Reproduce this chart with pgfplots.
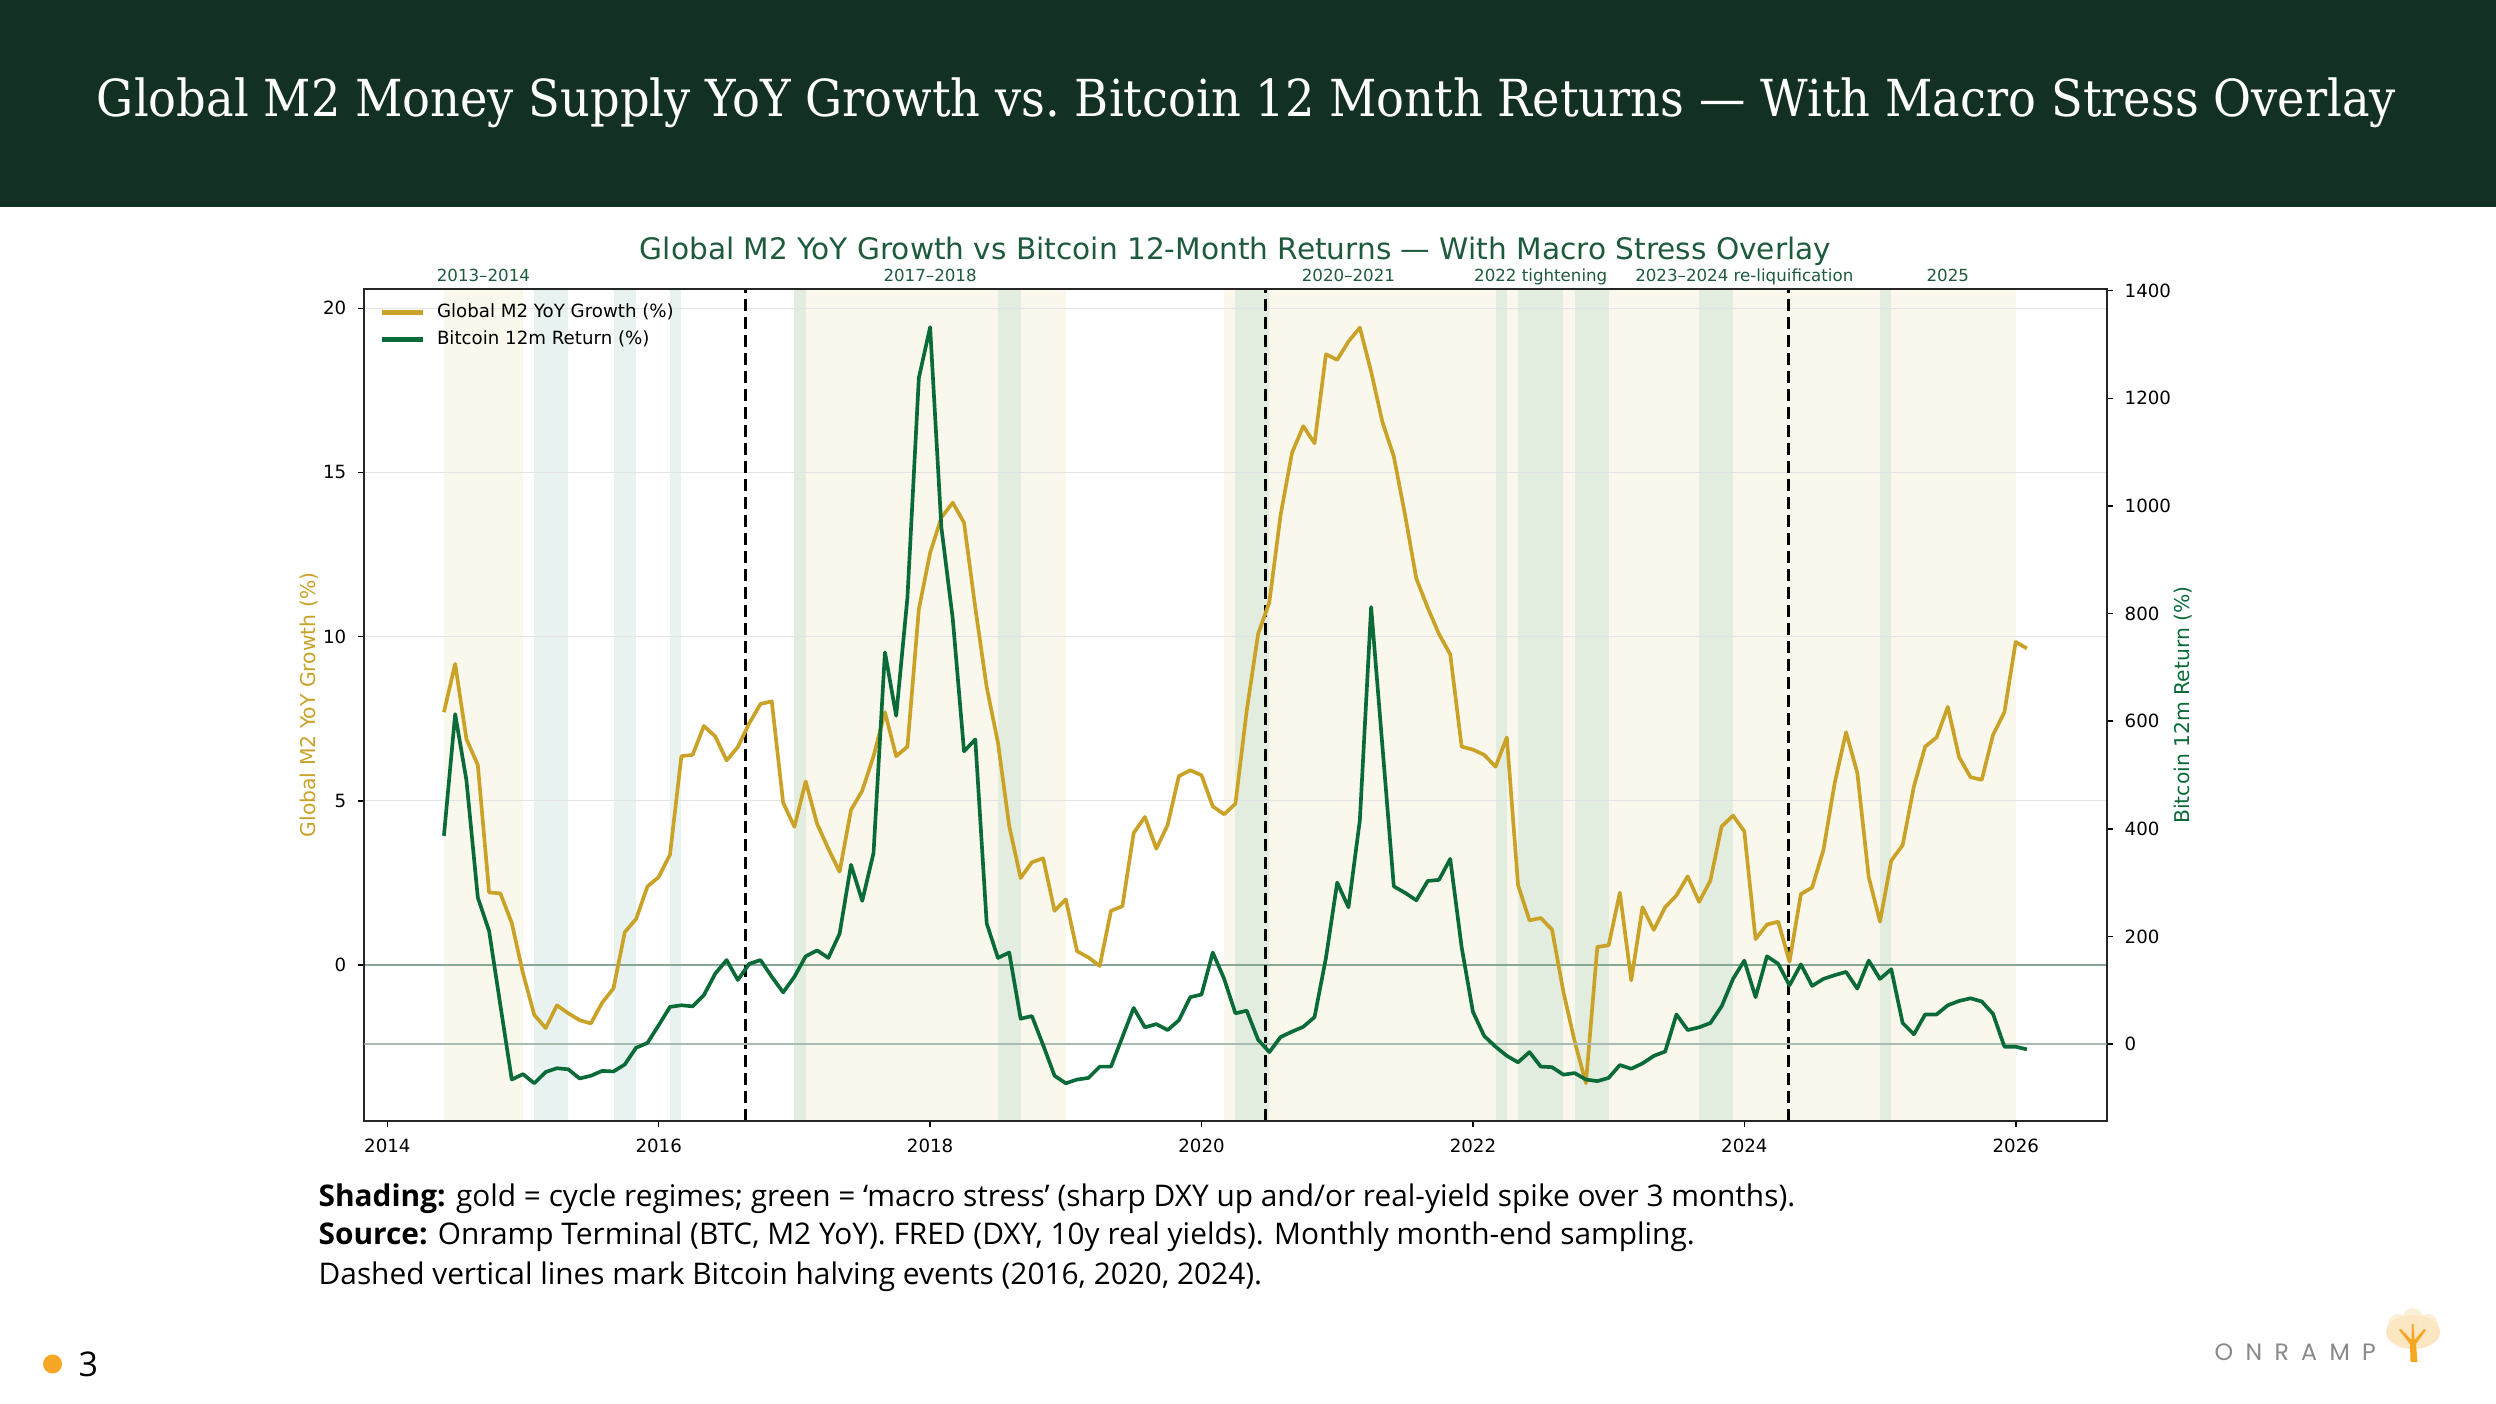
\documentclass[border=0pt]{standalone}
\usepackage{fontspec}
\usepackage{pgfplots}
\pgfplotsset{compat=1.18}
\usepackage{pgfplotstable}
\setmainfont{DejaVu Sans}
\newfontfamily\dejavu{DejaVu Sans}
\newfontfamily\serif{DejaVu Serif}
\newfontfamily\osans{Open Sans}
\newfontfamily\pop[LetterSpace=52]{Poppins}
\definecolor{hdr}{HTML}{133122}
\definecolor{ttl}{HTML}{1E5B3D}
\definecolor{gold}{HTML}{C9A227}
\definecolor{btc}{HTML}{0B6B38}
\definecolor{cream}{HTML}{FAF8EC}
\definecolor{stress}{RGB}{0,128,100}
\definecolor{zeroA}{HTML}{86A895}
\definecolor{zeroB}{HTML}{A9BCB1}
\definecolor{gridc}{HTML}{E3E3E3}
\definecolor{orangedot}{HTML}{F5A623}
\definecolor{logogrey}{HTML}{8A8A8A}

\pgfplotstableread{
x m2 btc
2014.417 7.70 387
2014.500 9.17 613
2014.583 6.88 490
2014.667 6.09 272
2014.750 2.21 210
2014.833 2.18 72
2014.917 1.28 -66
2015.000 -0.26 -56
2015.083 -1.52 -73
2015.167 -1.92 -52
2015.250 -1.23 -45
2015.333 -1.47 -47
2015.417 -1.68 -64
2015.500 -1.78 -59
2015.583 -1.15 -50
2015.667 -0.71 -51
2015.750 1.00 -38
2015.833 1.40 -7
2015.917 2.39 2
2016.000 2.68 35
2016.083 3.36 69
2016.167 6.36 72
2016.250 6.40 70
2016.333 7.28 91
2016.417 6.96 131
2016.500 6.23 156
2016.583 6.64 119
2016.667 7.36 149
2016.750 7.95 156
2016.833 8.03 125
2016.917 4.94 96
2017.000 4.21 125
2017.083 5.59 163
2017.167 4.30 174
2017.250 3.54 160
2017.333 2.84 205
2017.417 4.72 333
2017.500 5.31 266
2017.583 6.36 355
2017.667 7.70 728
2017.750 6.36 610
2017.833 6.65 830
2017.917 10.84 1238
2018.000 12.55 1332
2018.083 13.63 960
2018.167 14.08 790
2018.250 13.47 544
2018.333 10.88 566
2018.417 8.46 224
2018.500 6.77 160
2018.583 4.23 170
2018.667 2.65 47
2018.750 3.13 52
2018.833 3.25 -2
2018.917 1.65 -59
2019.000 2.00 -73
2019.083 0.42 -66
2019.167 0.23 -63
2019.250 -0.03 -42
2019.333 1.65 -42
2019.417 1.79 13
2019.500 4.02 67
2019.583 4.51 31
2019.667 3.54 37
2019.750 4.26 26
2019.833 5.75 44
2019.917 5.93 87
2020.000 5.78 92
2020.083 4.83 170
2020.167 4.59 121
2020.250 4.91 57
2020.333 7.74 62
2020.417 10.08 8
2020.500 11.05 -15
2020.583 13.71 13
2020.667 15.60 23
2020.750 16.41 32
2020.833 15.89 50
2020.917 18.60 160
2021.000 18.43 300
2021.083 18.99 254
2021.167 19.41 416
2021.250 18.07 812
2021.333 16.54 554
2021.417 15.49 293
2021.500 13.71 281
2021.583 11.77 267
2021.667 10.88 303
2021.750 10.08 305
2021.833 9.46 344
2021.917 6.65 180
2022.000 6.56 60
2022.083 6.40 15
2022.167 6.04 -5
2022.250 6.93 -22
2022.333 2.43 -34
2022.417 1.36 -15
2022.500 1.43 -42
2022.583 1.08 -43
2022.667 -0.82 -57
2022.750 -2.33 -54
2022.833 -3.60 -66
2022.917 0.55 -69
2023.000 0.60 -63
2023.083 2.20 -39
2023.167 -0.47 -46
2023.250 1.76 -36
2023.333 1.07 -22
2023.417 1.76 -14
2023.500 2.12 55
2023.583 2.70 26
2023.667 1.92 31
2023.750 2.57 39
2023.833 4.22 70
2023.917 4.55 121
2024.000 4.07 155
2024.083 0.79 87
2024.167 1.23 163
2024.250 1.32 149
2024.333 0.10 109
2024.417 2.16 148
2024.500 2.36 108
2024.583 3.50 121
2024.667 5.56 128
2024.750 7.09 134
2024.833 5.85 103
2024.917 2.68 155
2025.000 1.32 121
2025.083 3.18 139
2025.167 3.65 39
2025.250 5.44 18
2025.333 6.65 55
2025.417 6.93 55
2025.500 7.86 72
2025.583 6.33 80
2025.667 5.72 85
2025.750 5.64 79
2025.833 7.01 56
2025.917 7.70 -5
2026.000 9.84 -5
2026.083 9.64 -10
}\data

\pgfplotsset{
  common/.style={
    at={(109.32pt,84.99pt)}, anchor=south west, scale only axis,
    width=522.66pt, height=249.51pt,
    xmin=2013.831, xmax=2026.670,
    tick align=outside, major tick length=1.9pt,
    every tick/.style={black, line width=0.45pt},
    axis line style={black!85, line width=0.55pt},
    /pgf/number format/1000 sep={}, /pgf/number format/assume math mode=true,
    ticklabel style={font=\dejavu\fontsize{5.46}{6}\selectfont},
  },
  regime/.style={fill=cream, draw=none, forget plot},
  stressband/.style={fill=stress, fill opacity=0.09, draw=none, forget plot},
  halving/.style={black, line width=0.9pt, dash pattern=on 3.5pt off 1.9pt, forget plot},
}

\begin{document}
\begin{tikzpicture}[x=0.3pt,y=0.3pt]
\fill[white] (0,0) rectangle (2496,1404);
\fill[hdr] (0,1197) rectangle (2496,1404);
\node[white, anchor=base, inner sep=0pt] at (1246.5,1287) {\resizebox{689.7pt}{\height}{\serif\fontsize{15.3}{18}\selectfont Global M2 Money Supply YoY Growth vs.\ Bitcoin 12 Month Returns — With Macro Stress Overlay}};
\node[ttl, anchor=base, inner sep=0pt] at (1235.5,1144) {\resizebox{357.3pt}{!}{\dejavu Global M2 YoY Growth vs Bitcoin 12-Month Returns — With Macro Stress Overlay}};

\begin{axis}[common,
  ymin=-4.742, ymax=20.588,
  xtick={2014,2016,...,2026}, ytick={0,5,10,15,20},
  xtick pos=bottom, ytick pos=left,
  axis on top, clip=false]
% cycle regimes (gold)
\addplot[regime] coordinates {(2014.417,-4.742) (2014.417,20.588) (2015.000,20.588) (2015.000,-4.742)};
\addplot[regime] coordinates {(2017.000,-4.742) (2017.000,20.588) (2019.000,20.588) (2019.000,-4.742)};
\addplot[regime] coordinates {(2020.167,-4.742) (2020.167,20.588) (2022.000,20.588) (2022.000,-4.742)};
\addplot[regime] coordinates {(2022.000,-4.742) (2022.000,20.588) (2023.000,20.588) (2023.000,-4.742)};
\addplot[regime] coordinates {(2023.000,-4.742) (2023.000,20.588) (2025.000,20.588) (2025.000,-4.742)};
\addplot[regime] coordinates {(2025.000,-4.742) (2025.000,20.588) (2026.000,20.588) (2026.000,-4.742)};
% macro stress (green)
\addplot[stressband] coordinates {(2015.083,-4.742) (2015.083,20.588) (2015.333,20.588) (2015.333,-4.742)};
\addplot[stressband] coordinates {(2015.667,-4.742) (2015.667,20.588) (2015.833,20.588) (2015.833,-4.742)};
\addplot[stressband] coordinates {(2016.083,-4.742) (2016.083,20.588) (2016.167,20.588) (2016.167,-4.742)};
\addplot[stressband] coordinates {(2017.000,-4.742) (2017.000,20.588) (2017.083,20.588) (2017.083,-4.742)};
\addplot[stressband] coordinates {(2018.500,-4.742) (2018.500,20.588) (2018.667,20.588) (2018.667,-4.742)};
\addplot[stressband] coordinates {(2020.250,-4.742) (2020.250,20.588) (2020.500,20.588) (2020.500,-4.742)};
\addplot[stressband] coordinates {(2022.167,-4.742) (2022.167,20.588) (2022.250,20.588) (2022.250,-4.742)};
\addplot[stressband] coordinates {(2022.333,-4.742) (2022.333,20.588) (2022.667,20.588) (2022.667,-4.742)};
\addplot[stressband] coordinates {(2022.750,-4.742) (2022.750,20.588) (2023.000,20.588) (2023.000,-4.742)};
\addplot[stressband] coordinates {(2023.667,-4.742) (2023.667,20.588) (2023.917,20.588) (2023.917,-4.742)};
\addplot[stressband] coordinates {(2025.000,-4.742) (2025.000,20.588) (2025.083,20.588) (2025.083,-4.742)};
% grid
\addplot[gridc, line width=0.35pt, forget plot] coordinates {(2013.831,5) (2026.670,5)};
\addplot[gridc, line width=0.35pt, forget plot] coordinates {(2013.831,10) (2026.670,10)};
\addplot[gridc, line width=0.35pt, forget plot] coordinates {(2013.831,15) (2026.670,15)};
\addplot[gridc, line width=0.35pt, forget plot] coordinates {(2013.831,20) (2026.670,20)};
\addplot[zeroA, line width=0.5pt, forget plot] coordinates {(2013.831,0) (2026.670,0)};
% halvings
\addplot[halving] coordinates {(2016.637,-4.742) (2016.637,20.588)};
\addplot[halving] coordinates {(2020.468,-4.742) (2020.468,20.588)};
\addplot[halving] coordinates {(2024.327,-4.742) (2024.327,20.588)};
% M2
\addplot[gold, line width=1.1pt, line join=round, forget plot] table[x=x,y=m2]{\data};
% regime labels
\begin{scope}[every node/.style={ttl, anchor=base, inner sep=0pt, yshift=2.4pt, font=\dejavu\fontsize{5.0}{6}\selectfont}]
\node at (axis cs:2014.708,20.588) {2013–2014};
\node at (axis cs:2018.000,20.588) {2017–2018};
\node at (axis cs:2021.083,20.588) {2020–2021};
\node at (axis cs:2022.500,20.588) {2022 tightening};
\node at (axis cs:2024.000,20.588) {2023–2024 re-liquification};
\node at (axis cs:2025.500,20.588) {2025};
\end{scope}
\end{axis}

\begin{axis}[common,
  ymin=-142.5, ymax=1403.1,
  axis x line=none, axis y line*=right,
  ytick={0,200,...,1400},
  legend cell align=left,
  legend style={at={(0.0082,1)}, anchor=north west, yshift=-4.3pt, draw=none, fill=none,
    inner xsep=0pt, inner ysep=0pt, column sep=3.6pt, row sep=2.9pt,
    nodes={inner sep=0pt, text height=4pt, text depth=1.2pt},
    font=\dejavu\fontsize{5.46}{6}\selectfont},
  legend image code/.code={\draw[#1, line width=1.3pt] (0pt,0pt) -- (12.4pt,0pt);}]
\addlegendimage{gold}
\addlegendentry{Global M2 YoY Growth (\%)}
\addplot[zeroB, line width=0.5pt, forget plot] coordinates {(2013.831,0) (2026.670,0)};
\addplot[btc, line width=1.1pt, line join=round] table[x=x,y=btc]{\data};
\addlegendentry{Bitcoin 12m Return (\%)}
\end{axis}

\node[rotate=90, gold, inner sep=0pt, font=\dejavu\fontsize{6.1}{7}\selectfont] at (309,699) {Global M2 YoY Growth (\%)};
\node[rotate=90, btc, inner sep=0pt, font=\dejavu\fontsize{6.1}{7}\selectfont] at (2182.6,699) {Bitcoin 12m Return (\%)};

% caption
\begin{scope}[every node/.style={anchor=base west, inner sep=0pt, font=\osans\fontsize{8.95}{10}\selectfont, black}]
\node at (318,197) {\textbf{Shading:} gold = cycle regimes; green = ‘macro stress’ (sharp DXY up and/or real-yield spike over 3 months).};
\node at (318,159) {\textbf{Source:} Onramp Terminal (BTC, M2 YoY). FRED (DXY, 10y real yields). Monthly month-end sampling.};
\node at (318,119) {Dashed vertical lines mark Bitcoin halving events (2016, 2020, 2024).};
\end{scope}

% page number
\fill[orangedot] (52.5,40) circle[radius=9.5];
\node[anchor=base west, inner sep=0pt, font=\osans\fontsize{10.2}{12}\selectfont] at (78,27) {3};

% logo
\node[anchor=base west, inner sep=0pt, logogrey, font=\pop\fontsize{7.1}{8}\selectfont] at (2214,43) {ONRAMP};
\begin{scope}
\fill[orangedot!40, opacity=0.7] (2413,72) ellipse[x radius=27, y radius=17];
\fill[orangedot!25, opacity=0.7] (2398,80) circle[radius=10];
\fill[orangedot!25, opacity=0.7] (2428,80) circle[radius=10];
\fill[orangedot!25, opacity=0.7] (2413,86) circle[radius=10];
\fill[orangedot] (2410.5,42) -- (2417.5,42) -- (2416,60) -- (2426,74) -- (2424,75) -- (2414.5,64) -- (2413.5,80) -- (2412,80) -- (2411.5,64) -- (2401,75) -- (2399,74) -- (2410,60) -- cycle;
\end{scope}
\end{tikzpicture}
\end{document}
